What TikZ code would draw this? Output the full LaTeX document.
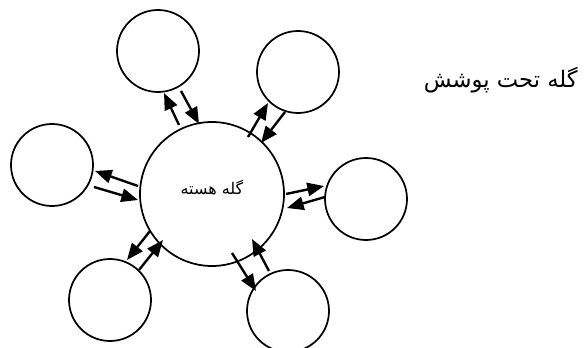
\documentclass[tikz,border=0pt]{standalone}
\usepackage{fontspec}
\newfontfamily\arabicfont[Script=Arabic]{DejaVu Sans}
\TeXXeTstate=1
\usetikzlibrary{arrows.meta}
\begin{document}
\begin{tikzpicture}[x=0.75pt,y=0.75pt,
  sat/.style={circle,draw,line width=1.3pt,minimum size=61.5pt,inner sep=0pt},
  hub/.style={circle,draw,line width=1.3pt,minimum size=108pt,inner sep=0pt},
  arr/.style={line width=1.8pt,-{Triangle[length=12.5pt,width=10pt]}},
  txt/.style={inner sep=0pt,font=\arabicfont}]
\useasboundingbox (0,0) rectangle (585,347);
\fill[white] (0,0) rectangle (585,347);
\node[hub] (C) at (212,153) {};
\node[txt,font=\arabicfont\fontsize{12}{14}\selectfont] (hubtext) at ([yshift=4.5pt]C.center) {\beginR گله هسته\endR};
\node[sat] (T) at (158,296) {};
\node[sat] (TR) at (298,275) {};
\node[sat] (R) at (366,148) {};
\node[sat] (BR) at (288,36) {};
\node[sat] (BL) at (110,47) {};
\node[sat] (L) at (52,182) {};
\node[txt,font=\arabicfont\fontsize{17}{20}\selectfont,anchor=east] (cover) at (578,267) {\beginR گله تحت پوشش\endR};
% top
\draw[arr] ([shift={(-33,69)}]C.center) -- ([shift={(6,-42)}]T.center);
\draw[arr] ([shift={(23,-40)}]T.center) -- ([shift={(-13,70)}]C.center);
% top right
\draw[arr] ([shift={(36,57)}]C.center) -- ([shift={(-30,-31)}]TR.center);
\draw[arr] ([shift={(-13,-40)}]TR.center) -- ([shift={(49,51)}]C.center);
% left
\draw[arr] ([shift={(-74,8)}]C.center) -- ([shift={(43,-6)}]L.center);
\draw[arr] ([shift={(42,-22)}]L.center) -- ([shift={(-74,-6)}]C.center);
% right
\draw[arr] ([shift={(74,0)}]C.center) -- ([shift={(-42,13)}]R.center);
\draw[arr] ([shift={(-41,2)}]R.center) -- ([shift={(75,-14)}]C.center);
% bottom left
\draw[arr] ([shift={(-62,-37)}]C.center) -- ([shift={(17,40)}]BL.center);
\draw[arr] ([shift={(29,30)}]BL.center) -- ([shift={(-49,-46)}]C.center);
% bottom right
\draw[arr] ([shift={(20,-59)}]C.center) -- ([shift={(-32,20)}]BR.center);
\draw[arr] ([shift={(-19,40)}]BR.center) -- ([shift={(40,-45)}]C.center);
\end{tikzpicture}
\end{document}
